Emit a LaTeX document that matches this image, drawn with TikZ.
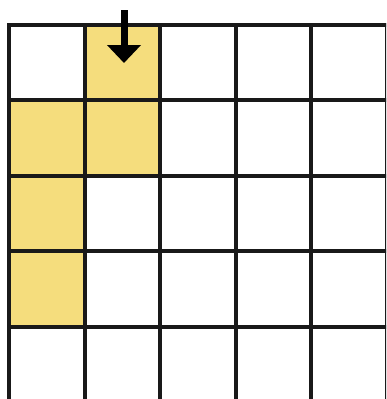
\documentclass[tikz,border=0pt]{standalone}
\usetikzlibrary{arrows.meta}
\definecolor{cellyellow}{HTML}{F5DD7D}
\tikzset{
  gridline/.style={line width=4pt, draw=black!90},
  filled/.style={fill=cellyellow},
  downarrow/.style={line width=7pt, -{Triangle[width=33pt,length=18pt]}}
}
\begin{document}
\begin{tikzpicture}[x=1pt,y=-1pt]
\useasboundingbox (0,0) rectangle (386,399);
\clip (0,0) rectangle (386,399);
% yellow cells
\fill[filled] (84.5,25) rectangle (160,100);
\fill[filled] (9,100) rectangle (84.5,176);
\fill[filled] (84.5,100) rectangle (160,176);
\fill[filled] (9,176) rectangle (84.5,251);
\fill[filled] (9,251) rectangle (84.5,327);
% grid
\foreach \x in {9,84.5,160,235.5,311,386.5} \draw[gridline] (\x,23) -- (\x,410);
\foreach \y in {25,100,176,251,327,402} \draw[gridline] (7,\y) -- (395,\y);
% arrow
\coordinate (a1) at (124,10);
\coordinate (a2) at (124,63);
\draw[downarrow] (a1) -- (a2);
\end{tikzpicture}
\end{document}
